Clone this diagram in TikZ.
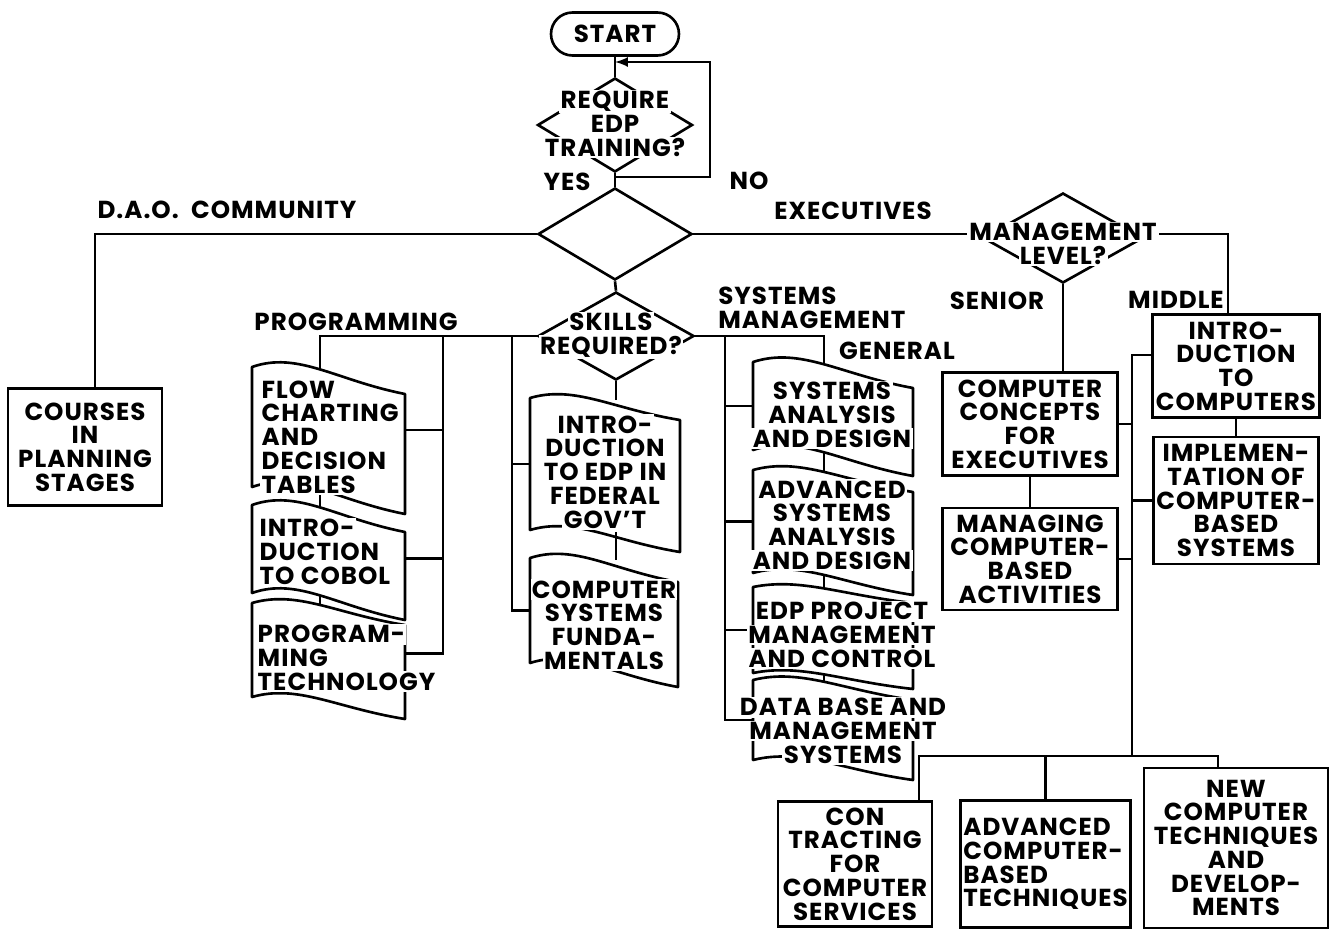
\documentclass[tikz,border=0pt]{standalone}
\usepackage{fontspec}
\setmainfont{Poppins}[LetterSpace=4]
\usepackage{tikz}
\usetikzlibrary{shapes, arrows, positioning}
\usetikzlibrary{calc}

% texte sur fond blanc (coupe les traits derriere les lettres)
\newcommand{\wl}[1]{{\setlength{\fboxsep}{0.8pt}\colorbox{white}{#1}}}

% document ondule : nom, gauche, haut, largeur, hauteur, decalage
\newcommand{\wavedoc}[6]{%
	\coordinate (#1_nw) at (#2,#3);
	\coordinate (#1_ne) at ({#2+#4},{#3+#6});
	\coordinate (#1_sw) at (#2,{#3+#5});
	\coordinate (#1_se) at ({#2+#4},{#3+#5+#6});
	\draw[line join=round, line cap=round] (#1_sw) -- coordinate[pos=0.5] (#1_w) (#1_nw)
		.. controls +({0.3*#4},{-0.6*#6}) and +({-0.45*#4},{-0.5*#6}) .. coordinate[pos=0.5] (#1_top) (#1_ne)
		-- coordinate[pos=0.3] (#1_e) (#1_se)
		.. controls +({-0.45*#4},{-0.5*#6}) and +({0.3*#4},{-0.6*#6}) .. coordinate[pos=0.5] (#1_bot) (#1_sw);
}

\begin{document}
\begin{tikzpicture}[x=0.02cm, y=-0.02cm, >=latex, line width=1.5pt,
	every node/.style={font=\bfseries\fontsize{14}{13.5}\selectfont, line width=1.5pt},
	box/.style={rectangle, draw, align=center, inner sep=0pt},
	decision/.style={diamond, draw, inner sep=0pt, aspect=1.7},
	doctext/.style={align=center, inner sep=0pt},
	lbl/.style={inner sep=0pt}]
	\useasboundingbox (0,0) rectangle (1333,930);

	% --- Depart et tests ---
	\node[draw, rounded corners=0.43cm, minimum width=2.56cm, minimum height=0.86cm] (start) at (615,34) {START};
	\node[decision, minimum width=3.1cm, minimum height=1.88cm] (req) at (615,125) {};
	\node[decision, minimum width=3.08cm, minimum height=1.84cm] (who) at (615,234) {};
	\node[decision, minimum width=3.12cm, minimum height=1.76cm] (skills) at (616,336) {};
	\node[decision, minimum width=3.2cm, minimum height=1.8cm] (mgmt) at (1063,238) {};

	\node[doctext] (reqtxt) at (615,124) {\wl{REQUIRE}\\\wl{EDP}\\\wl{TRAINING?}};
	\node[doctext] (skillstxt) at (611,335) {\wl{SKILLS}\\\wl{REQUIRED?}};
	\node[doctext] (mgmttxt) at (1063,244) {\wl{MANAGEMENT}\\\wl{LEVEL?}};

	% --- Etiquettes ---
	\node[lbl] (yes) at (567,182) {YES};
	\node[lbl] (no) at (749,181) {NO};
	\node[lbl] (dao) at (227,210) {D.A.O.\ \ COMMUNITY};
	\node[lbl] (execs) at (853,211) {EXECUTIVES};
	\node[lbl] (prog) at (356,322) {PROGRAMMING};
	\node[lbl, align=left, anchor=west] (sysmgmt) at (717,308) {SYSTEMS\\MANAGEMENT};
	\node[lbl] (general) at (897,351) {GENERAL};
	\node[lbl] (senior) at (997,301) {SENIOR};
	\node[lbl] (middle) at (1176,300) {MIDDLE};

	% --- Cours (cadres) ---
	\node[box, minimum width=3.08cm, minimum height=2.34cm] (courses) at (85,447) {COURSES\\IN\\PLANNING\\STAGES};
	\node[box, minimum width=3.5cm, minimum height=2.06cm] (concepts) at (1030,424) {COMPUTER\\CONCEPTS\\FOR\\EXECUTIVES};
	\node[box, minimum width=3.5cm, minimum height=2.04cm, below=0.6cm of concepts] (managing) {MANAGING\\COMPUTER-\\BASED\\ACTIVITIES};
	\node[box, minimum width=3.34cm, minimum height=2.06cm] (intro) at (1236,366) {INTRO-\\DUCTION\\TO\\COMPUTERS};
	\node[box, minimum width=3.3cm, minimum height=2.54cm, below=0.34cm of intro] (implement) {IMPLEMEN-\\TATION OF\\COMPUTER-\\BASED\\SYSTEMS};
	\node[box, minimum width=3.08cm, minimum height=2.5cm] (contract) at (855,864) {CON\\TRACTING\\FOR\\COMPUTER\\SERVICES};
	\node[box, minimum width=3.4cm, minimum height=2.54cm, align=left, right=0.52cm of contract] (advcomp) {ADVANCED\\COMPUTER-\\BASED\\TECHNIQUES};
	\node[box, minimum width=3.68cm, minimum height=3.2cm] (newtech) at (1236,848) {NEW\\COMPUTER\\TECHNIQUES\\AND\\DEVELOP-\\MENTS};

	% --- Cours (documents) ---
	\wavedoc{flow}{252}{367}{153}{120}{27}
	\wavedoc{cobol}{252}{505}{153}{88}{27}
	\wavedoc{progtech}{252}{603}{153}{94}{22}
	\wavedoc{edpfed}{530}{398}{150}{132}{22}
	\wavedoc{sysfund}{530}{558}{148}{105}{24}
	\wavedoc{sysan}{753}{362}{160}{88}{26}
	\wavedoc{advsys}{753}{470}{160}{103}{22}
	\wavedoc{edpproj}{753}{587}{160}{86}{16}
	\wavedoc{database}{753}{680}{160}{80}{20}

	% --- Liaisons du haut ---
	\coordinate (loopin) at (615,177);
	\coordinate (loopback) at (615,62);
	\draw (start.south) -- (req.north);
	\draw (req) -- (who);
	\draw[->] (loopin) -- ++(95,0) |- (loopback);
	\draw (who.west) -| ([xshift=0.2cm]courses.north);
	\draw (who.east) -- (who.east -| mgmttxt.west);
	\draw (mgmttxt.east |- who.east) -| ([xshift=-0.16cm]intro.north);
	\draw (mgmt.south) -- (mgmt.south |- concepts.north);
	\draw (who.south) -- (skills.north);

	% --- Branche SKILLS ---
	\coordinate (progbus) at (443,336);
	\coordinate (fedbus) at (512,336);
	\coordinate (sysbus) at (725,336);
	\draw (skills.west) -| (flow_top);
	\draw (skills.east) -| (sysan_top);
	\draw (skills.south) -- (skills.south |- edpfed_top);
	\draw (skills.south |- edpfed_bot) -- (skills.south |- sysfund_top);

	\draw (progbus) |- (progtech_e);
	\foreach \d in {flow, cobol} {
		\draw (progbus |- \d_e) -- (\d_e);
	}
	\draw (flow_bot) -- (flow_bot |- cobol_top);
	\draw (cobol_bot) -- (cobol_bot |- progtech_top);

	\draw (fedbus) |- (sysfund_w);
	\draw (fedbus |- edpfed_w) -- (edpfed_w);

	\draw (sysbus) |- (database_w);
	\foreach \d in {sysan, advsys, edpproj} {
		\draw (sysbus |- \d_w) -- (\d_w);
	}
	\draw (sysan_bot) -- (sysan_bot |- advsys_top);
	\draw (advsys_bot) -- (advsys_bot |- edpproj_top);
	\draw (edpproj_bot) -- (edpproj_bot |- database_top);

	% --- Branche EXECUTIVES ---
	\coordinate (midbus) at (1132,355);
	\coordinate (hub) at (1132,756);
	\draw (midbus -| intro.west) -- (midbus) -- (hub);
	\draw (concepts.east) -- (concepts.east -| midbus);
	\draw (implement.west) -- (implement.west -| midbus);
	\draw (managing.east) -- (managing.east -| midbus);
	\draw (concepts) -- (managing);
	\draw (intro) -- (implement);
	\draw ([xshift=1.28cm]contract.north) |- (hub) -| ([xshift=-0.36cm]newtech.north);
	\draw (hub -| advcomp.north) -- (advcomp.north);

	% --- Textes des documents ---
	\node[doctext, align=left, anchor=west] (flowtxt) at (259,437) {\wl{FLOW}\\\wl{CHARTING}\\\wl{AND}\\\wl{DECISION}\\\wl{TABLES}};
	\node[doctext, align=left, anchor=west] (coboltxt) at (257,552) {\wl{INTRO-}\\\wl{DUCTION}\\\wl{TO COBOL}};
	\node[doctext, align=left, anchor=west] (progtechtxt) at (255,658) {\wl{PROGRAM-}\\\wl{MING}\\\wl{TECHNOLOGY}};
	\node[doctext] (edpfedtxt) at (605,472) {\wl{INTRO-}\\\wl{DUCTION}\\\wl{TO EDP IN}\\\wl{FEDERAL}\\\wl{GOV'T}};
	\node[doctext] (sysfundtxt) at (604,625) {\wl{COMPUTER}\\\wl{SYSTEMS}\\\wl{FUNDA-}\\\wl{MENTALS}};
	\node[doctext] (sysantxt) at (832,415) {\wl{SYSTEMS}\\\wl{ANALYSIS}\\\wl{AND DESIGN}};
	\node[doctext] (advsystxt) at (832,525) {\wl{ADVANCED}\\\wl{SYSTEMS}\\\wl{ANALYSIS}\\\wl{AND DESIGN}};
	\node[doctext] (edpprojtxt) at (842,635) {\wl{EDP PROJECT}\\\wl{MANAGEMENT}\\\wl{AND CONTROL}};
	\node[doctext] (databasetxt) at (843,731) {\wl{DATA BASE AND}\\\wl{MANAGEMENT}\\\wl{SYSTEMS}};

\end{tikzpicture}
\end{document}
